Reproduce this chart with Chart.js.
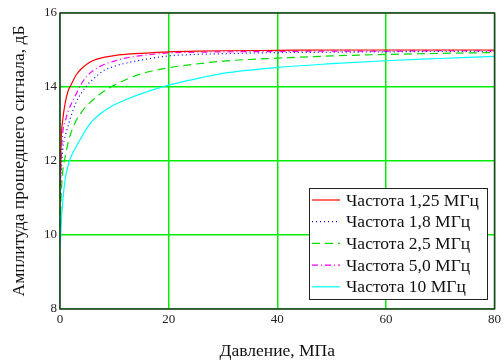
<!DOCTYPE html>
<html>
<head>
<meta charset="utf-8">
<script src="https://cdn.jsdelivr.net/npm/chart.js@4.4.1/dist/chart.umd.min.js"></script>
<style>
  html, body { margin: 0; padding: 0; background: #fff; }
  #wrap { width: 504px; height: 363px; position: relative; }
</style>
</head>
<body>
<div id="wrap"><canvas id="grafico"></canvas></div>
<script>
/* DATOS */
const davlenie = [0.05, 0.2, 0.5, 1, 1.5, 2, 3, 4, 5, 6, 8, 10, 12, 15, 20, 25, 30, 40, 50, 60, 70, 80];

const f125 = [11.3, 12.5, 13.1, 13.6, 13.9, 14.05, 14.33, 14.5, 14.62, 14.71, 14.8, 14.85, 14.88, 14.91, 14.95, 14.97, 14.98, 14.99, 15.0, 15.0, 15.0, 15.0];
const f18  = [10.9, 11.6, 12.3, 12.7, 12.95, 13.2, 13.6, 13.85, 14.05, 14.2, 14.44, 14.56, 14.64, 14.73, 14.84, 14.88, 14.9, 14.93, 14.94, 14.95, 14.96, 14.96];
const f25  = [10.2, 11.0, 11.7, 12.15, 12.5, 12.75, 13.1, 13.33, 13.5, 13.64, 13.88, 14.05, 14.19, 14.36, 14.52, 14.62, 14.7, 14.78, 14.84, 14.88, 14.91, 14.93];
const f50  = [11.0, 12.0, 12.75, 13.1, 13.35, 13.52, 13.82, 14.1, 14.3, 14.43, 14.6, 14.7, 14.78, 14.85, 14.92, 14.94, 14.95, 14.96, 14.97, 14.97, 14.98, 14.98];
const f10  = [9.6, 10.2, 10.9, 11.55, 11.88, 12.1, 12.4, 12.65, 12.9, 13.09, 13.34, 13.52, 13.65, 13.82, 14.05, 14.22, 14.37, 14.53, 14.63, 14.71, 14.77, 14.83];

const etiquetas = ['Частота 1,25 МГц', 'Частота 1,8 МГц', 'Частота 2,5 МГц', 'Частота 5,0 МГц', 'Частота 10 МГц'];
const xTicks = [0, 20, 40, 60, 80];
const yTicks = [8, 10, 12, 14, 16];

const fuente = "'Liberation Serif', 'Times New Roman', serif";

function puntos(arr) {
  return davlenie.map((x, i) => ({ x: x, y: arr[i] }));
}

function serie(label, arr, color, dash) {
  return {
    label: label,
    data: puntos(arr),
    borderColor: color,
    borderWidth: 1.2,
    borderDash: dash,
    pointRadius: 0,
    fill: false,
    cubicInterpolationMode: 'monotone'
  };
}

const data = {
  datasets: [
    serie(etiquetas[0], f125, '#ff0000', []),
    serie(etiquetas[1], f18, '#0000ff', [1, 3]),
    serie(etiquetas[2], f25, '#00dd00', [8, 5]),
    serie(etiquetas[3], f50, '#ff00ff', [6, 3, 1, 3]),
    serie(etiquetas[4], f10, '#00ffff', [])
  ]
};

/* marco + leyenda */
const marco = {
  id: 'marco',
  afterDatasetsDraw(chart) {
    const ctx = chart.ctx;
    const a = chart.chartArea;
    ctx.save();
    ctx.strokeStyle = '#333';
    ctx.lineWidth = 1.5;
    ctx.strokeRect(a.left, a.top, a.right - a.left, a.bottom - a.top);

    // leyenda
    const x0 = 309, y0 = 188, w = 178, h = 111;
    ctx.fillStyle = '#fff';
    ctx.fillRect(x0, y0, w, h);
    ctx.strokeStyle = '#222';
    ctx.lineWidth = 1;
    ctx.strokeRect(x0 + 0.5, y0 + 0.5, w, h);
    ctx.font = '17.5px ' + fuente;
    ctx.textBaseline = 'middle';
    chart.data.datasets.forEach((ds, i) => {
      const yy = y0 + 12 + i * 21.7;
      ctx.strokeStyle = ds.borderColor;
      ctx.lineWidth = 1.2;
      ctx.setLineDash(ds.borderDash);
      ctx.beginPath();
      ctx.moveTo(x0 + 3, yy);
      ctx.lineTo(x0 + 31, yy);
      ctx.stroke();
      ctx.setLineDash([]);
      ctx.fillStyle = '#111';
      ctx.fillText(ds.label, x0 + 37, yy + 1);
    });
    ctx.restore();
  }
};

const options = {
  responsive: true,
  maintainAspectRatio: false,
  animation: false,
  layout: { padding: { top: 13, right: 8, left: 0, bottom: 0 } },
  plugins: {
    legend: { display: false },
    tooltip: { enabled: false }
  },
  scales: {
    x: {
      type: 'linear',
      min: 0,
      max: 80,
      afterBuildTicks: (s) => { s.ticks = xTicks.map(v => ({ value: v })); },
      afterFit: (s) => { s.height = 54; },
      grid: { drawTicks: false, color: '#00ee00', lineWidth: 1.5 },
      border: { display: false },
      ticks: { color: '#222', font: { family: fuente, size: 13 }, padding: 3, maxRotation: 0 },
      title: { display: true, text: 'Давление, МПа', color: '#111', font: { family: fuente, size: 17.5 }, padding: { top: 0, bottom: 1 } }
    },
    y: {
      min: 8,
      max: 16,
      afterBuildTicks: (s) => { s.ticks = yTicks.map(v => ({ value: v })); },
      afterFit: (s) => { s.width = 60; },
      grid: { drawTicks: false, color: '#00ee00', lineWidth: 1.5 },
      border: { display: false },
      ticks: { color: '#222', font: { family: fuente, size: 13 }, padding: 3 },
      title: { display: true, text: 'Амплитуда прошедшего сигнала, дБ', color: '#111', font: { family: fuente, size: 17.5 }, padding: { bottom: 0, top: 9 } }
    }
  }
};

const grafico = new Chart(document.getElementById('grafico').getContext('2d'), {
  type: 'line',
  data: data,
  options: options,
  plugins: [marco]
});
</script>
</body>
</html>
